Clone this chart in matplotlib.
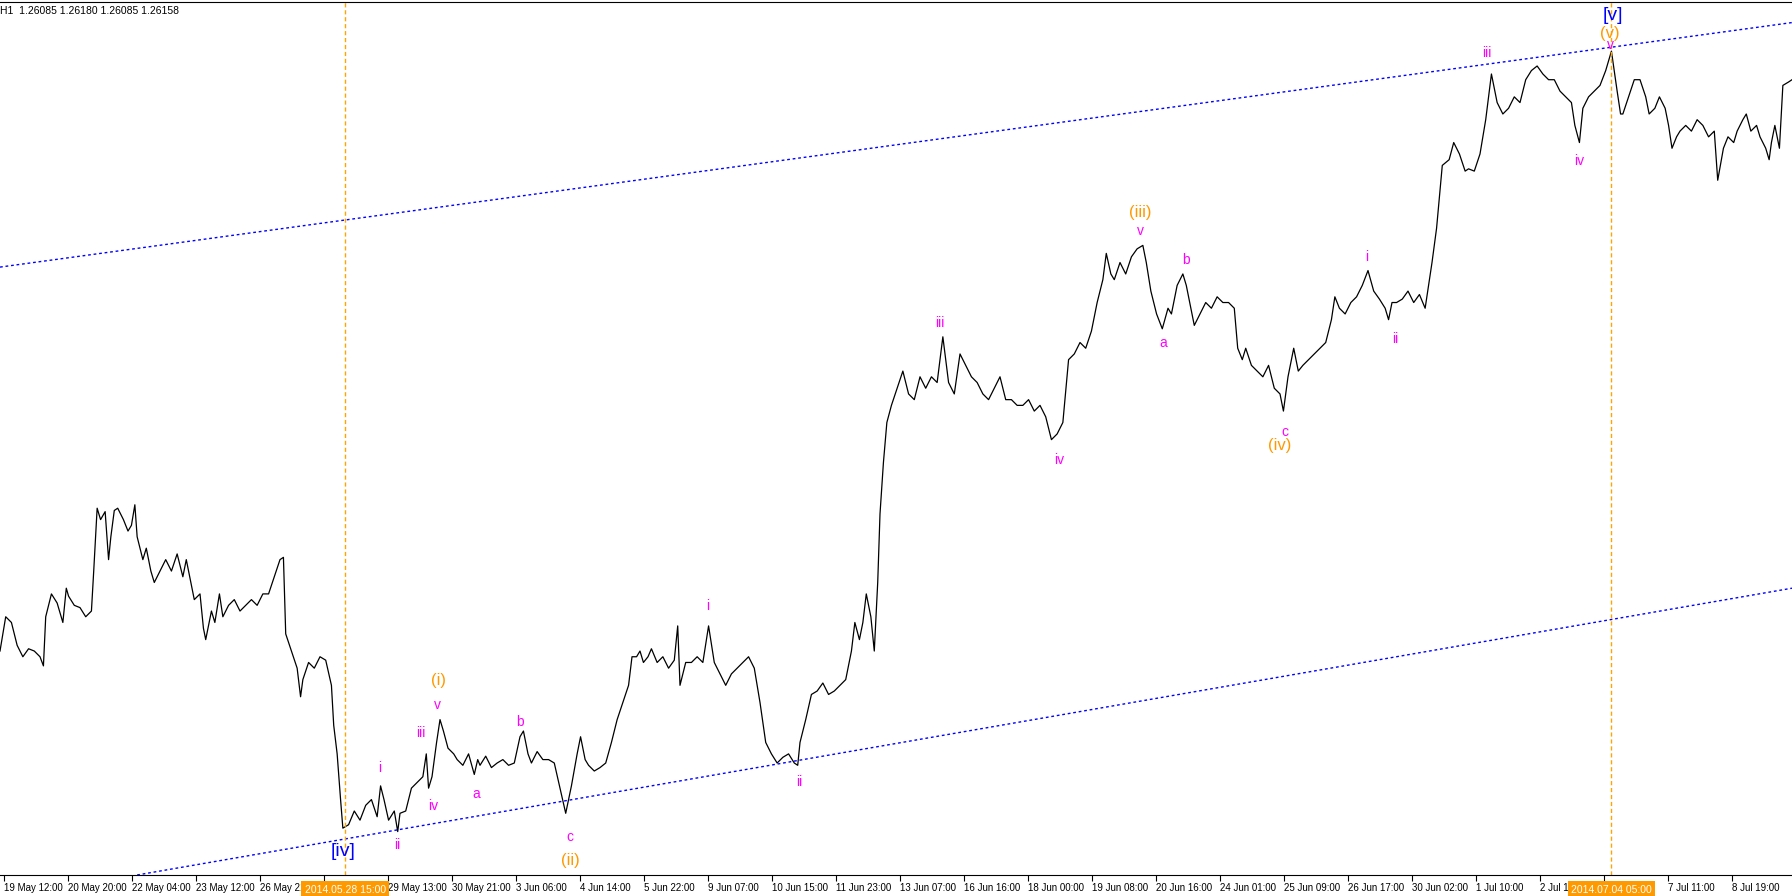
import numpy as np
import matplotlib
matplotlib.use("Agg")
import matplotlib.pyplot as plt

# trace of the H1 close line: chart column (screen units) and level (screen units, top=0)
col = [0,5,10,15,20,25,30,35,38,40,45,50,55,58,60,65,70,75,80,82,85,88,92,95,97,100,103,108,112,115,118,120,125,128,132,135,140,145,150,155,160,163,165,170,175,178,180,185,188,192,195,200,205,210,215,220,225,230,235,240,245,248,250,255,260,263,265,270,275,280,285,290,292,295,298,300,305,310,315,320,325,330,333,336,340,345,348,350,355,360,365,370,373,375,378,382,385,388,392,397,400,405,410,415,418,420,425,430,435,440,445,450,455,458,462,465,470,475,480,485,490,495,500,505,508,512,515,520,525,530,535,540,545,550,553,557,560,563,567,570,575,580,585,590,593,595,600,605,610,615,620,625,630,635,640,645,650,655,660,665,670,675,680,685,690,695,698,700,705,710,715,720,725,730,735,740,745,748,752,755,758,762,765,768,770,773,776,780,785,790,795,800,805,810,815,820,825,830,835,840,845,850,855,860,865,870,875,880,885,890,895,900,905,910,915,920,925,930,935,940,945,950,955,960,965,968,972,975,980,985,990,995,1000,1003,1007,1012,1017,1022,1025,1030,1035,1038,1042,1045,1050,1055,1060,1065,1070,1075,1080,1083,1087,1090,1095,1100,1105,1110,1115,1120,1123,1127,1132,1136,1140,1145,1150,1155,1160,1165,1168,1172,1177,1182,1187,1192,1197,1202,1207,1212,1215,1218,1222,1227,1232,1237,1242,1247,1250,1253,1257,1262,1268,1272,1277,1282,1285,1290,1295,1300,1305,1310,1315,1320,1325,1330,1335,1340,1345,1350,1355,1360,1365,1370,1375,1378,1382,1385,1390,1395,1400,1405,1410,1415,1418,1420,1425,1430,1435,1440,1443,1448,1452,1457,1460,1463,1467,1470,1475,1480,1485,1490,1495,1500,1503,1508,1512,1517,1520,1525,1528,1532,1537,1540,1545,1548,1550,1553,1557,1560,1565,1568]
lvl = [570,540,545,565,575,568,570,575,583,540,520,528,545,515,522,530,532,540,535,500,445,455,448,490,470,447,445,455,465,460,442,470,490,480,500,510,500,490,500,485,505,490,500,525,520,550,560,535,545,520,540,530,525,535,530,525,530,520,520,505,490,488,555,570,585,610,595,580,585,575,578,600,635,660,700,725,722,710,718,705,700,715,688,700,718,710,728,712,710,690,685,680,660,690,680,650,630,640,655,660,665,670,660,678,665,670,662,672,668,665,670,668,645,640,660,668,658,665,665,668,690,712,688,660,645,665,670,675,672,668,650,630,615,600,575,575,570,580,575,568,580,575,585,578,548,600,580,580,575,580,548,580,590,600,590,585,580,575,585,615,650,660,668,663,660,668,670,650,630,608,605,598,608,605,600,595,570,545,560,545,520,540,570,510,450,405,370,355,340,325,345,350,330,340,330,335,295,335,345,310,320,330,335,345,350,340,330,350,350,355,355,350,360,355,365,385,380,370,315,310,300,305,290,265,245,222,240,245,230,240,225,218,215,230,255,275,288,270,275,250,240,250,270,285,275,265,270,260,265,265,270,305,315,305,320,325,330,320,340,345,360,330,305,325,320,315,310,305,300,280,260,270,275,265,260,250,237,255,262,270,280,265,265,262,255,265,258,270,250,230,200,145,140,125,135,150,148,150,135,105,65,90,100,95,85,90,70,62,58,65,70,70,80,85,90,110,125,95,85,80,75,62,45,80,100,100,85,70,70,85,100,95,85,95,110,130,120,115,110,115,105,110,120,115,158,130,120,125,115,105,100,115,110,120,130,140,125,110,130,75,72,70]

tick_labels = ["19 May 12:00","20 May 20:00","22 May 04:00","23 May 12:00","26 May 21:00","28 May 05:00",
               "29 May 13:00","30 May 21:00","3 Jun 06:00","4 Jun 14:00","5 Jun 22:00","9 Jun 07:00",
               "10 Jun 15:00","11 Jun 23:00","13 Jun 07:00","16 Jun 16:00","18 Jun 00:00","19 Jun 08:00",
               "20 Jun 16:00","24 Jun 01:00","25 Jun 09:00","26 Jun 17:00","30 Jun 02:00","1 Jul 10:00",
               "2 Jul 18:00","4 Jul 02:00","7 Jul 11:00","8 Jul 19:00"]

W = 1568.0
H = 766.0
def to_hour(c): return np.asarray(c, float) * 896.0 / W
def to_price(l): return 1.26158 - (np.asarray(l, float) - 70) * 2e-5

plt.rcParams['font.family'] = ['Liberation Sans', 'DejaVu Sans']
fig = plt.figure(figsize=(17.92, 8.96), dpi=100)
ax = fig.add_axes([0, 21/896, 1, 1 - 23/896])
hrs = to_hour(col); px = to_price(lvl)
ax.plot(hrs, px, color="black", lw=0.9)
ax.set_xlim(0, 896)
ax.set_ylim(to_price(766), to_price(2))

# channel lines
ax.plot(to_hour([0, 1568]), to_price([234, 20]), color="#0000ff", lw=1, ls=(0, (2, 2)))
ax.plot(to_hour([120, 1568]), to_price([766, 515]), color="#0000ff", lw=1, ls=(0, (2, 2)))
for c in [302, 1410]:
    ax.axvline(to_hour(c), color="#ffa500", lw=1, ls=(0, (3, 2)))

for s in ["left", "right"]:
    ax.spines[s].set_visible(False)
ax.set_yticks([])
ticks = [2 + 32 * k for k in range(len(tick_labels))]
ax.set_xticks(ticks)
ax.set_xticklabels(tick_labels, ha="left", fontsize=7)
ax.tick_params(axis="x", length=4, pad=2)

for c, txt in [(302, "2014.05.28 15:00"), (1410, "2014.07.04 05:00")]:
    ax.text(to_hour(c), -0.011, txt, transform=ax.get_xaxis_transform(), ha="center", va="top",
            fontsize=7.5, color="white", zorder=10,
            bbox=dict(boxstyle="square,pad=0.3", fc="#ff9900", ec="none"))

ax.text(0.0, 0.995, "H1  1.26085 1.26180 1.26085 1.26158", transform=ax.transAxes,
        ha="left", va="top", fontsize=7.5)

M = "#ff00ff"; O = "#ff9900"; B = "#0000ff"
labels = [(300,745,"[iv]",B,14),(332,672,"i",M,10),(348,740,"ii",M,10),(368,642,"iii",M,10),
          (379,706,"iv",M,10),(383,617,"v",M,10),(384,596,"(i)",O,12),(417,695,"a",M,10),
          (455,632,"b",M,10),(499,733,"c",M,10),(499,753,"(ii)",O,12),
          (619,531,"i",M,10),(699,685,"ii",M,10),(822,283,"iii",M,10),(927,403,"iv",M,10),
          (998,202,"v",M,10),(998,186,"(iii)",O,12),(1018,300,"a",M,10),(1038,228,"b",M,10),
          (1124,378,"c",M,10),(1120,390,"(iv)",O,12),(1196,225,"i",M,10),(1221,297,"ii",M,10),
          (1301,47,"iii",M,10),(1382,141,"iv",M,10),(1409,40,"v",M,10),(1409,30,"(v)",O,12),
          (1411,14,"[v]",B,14)]
for c, l, t, colr, fs in labels:
    ax.text(c / W, (H - l) / (H - 2), t, transform=ax.transAxes, ha="center", va="center",
            color=colr, fontsize=fs)

fig.savefig("out.png", dpi=100)
